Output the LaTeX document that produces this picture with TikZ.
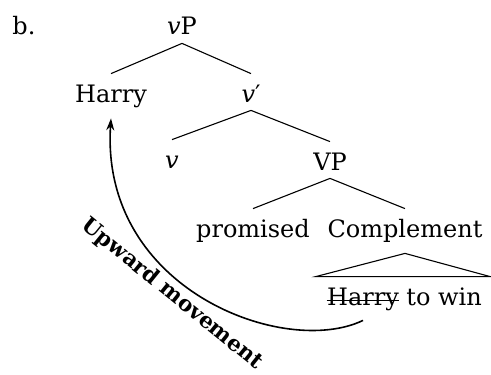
\documentclass[tikz,border=0pt]{standalone}
\usepackage{fontspec}
\setmainfont{DejaVu Serif}
\usetikzlibrary{arrows.meta,calc}
\begin{document}
\begin{tikzpicture}[x=0.5pt,y=-0.5pt,
  word/.style={font=\fontsize{12}{15}\selectfont, text height=11pt, text depth=1pt, inner ysep=3pt, inner xsep=0pt, anchor=base},
  branch/.style={line width=0.55pt},
  move/.style={line width=0.8pt, -{Stealth[length=6pt,width=4pt]}}]
\useasboundingbox (0,0) rectangle (491,374);
\node[word, anchor=base west] (lab) at (12,35) {b.};
\node[word] (vP) at (182,35) {\textit{v}P};
\node[word] (harry) at (111,102) {Harry};
\node[word] (vbar) at (251,102) {\textit{v}′};
\node[word] (v) at (172,168) {\textit{v}};
\node[word] (VP) at (330,170) {VP};
\node[word] (prom) at (253,237) {promised};
\node[word] (comp) at (405,237) {Complement};
\node[word] (harryb) at (363,305) {Harry};
\node[word, anchor=base west] (towin) at (harryb.base east) {\hspace{0.28em}to win};
\draw[line width=0.55pt] ([yshift=-11pt-3pt+2.2pt]harryb.north west) -- ([yshift=-11pt-3pt+2.2pt]harryb.north east);
\draw[branch] (vP.south) -- (harry.north);
\draw[branch] (vP.south) -- (vbar.north);
\draw[branch] (vbar.south) -- (v.north);
\draw[branch] (vbar.south) -- (VP.north);
\draw[branch] (VP.south) -- (prom.north);
\draw[branch] (VP.south) -- (comp.north);
\draw[branch] ([yshift=-4pt]comp.south) -- ([xshift=-5.5pt]harryb.north west) -- ([xshift=4pt]towin.north east) -- cycle;
\draw[move] ($(harryb.south)+(0,7)$) .. controls (285,358) and (100,290) .. ($(harry.south)+(0,8)$);
\node[font=\fontsize{10.8}{12}\selectfont\bfseries, rotate=-39, inner sep=0pt] (upw) at (172,294) {Upward movement};
\end{tikzpicture}
\end{document}
